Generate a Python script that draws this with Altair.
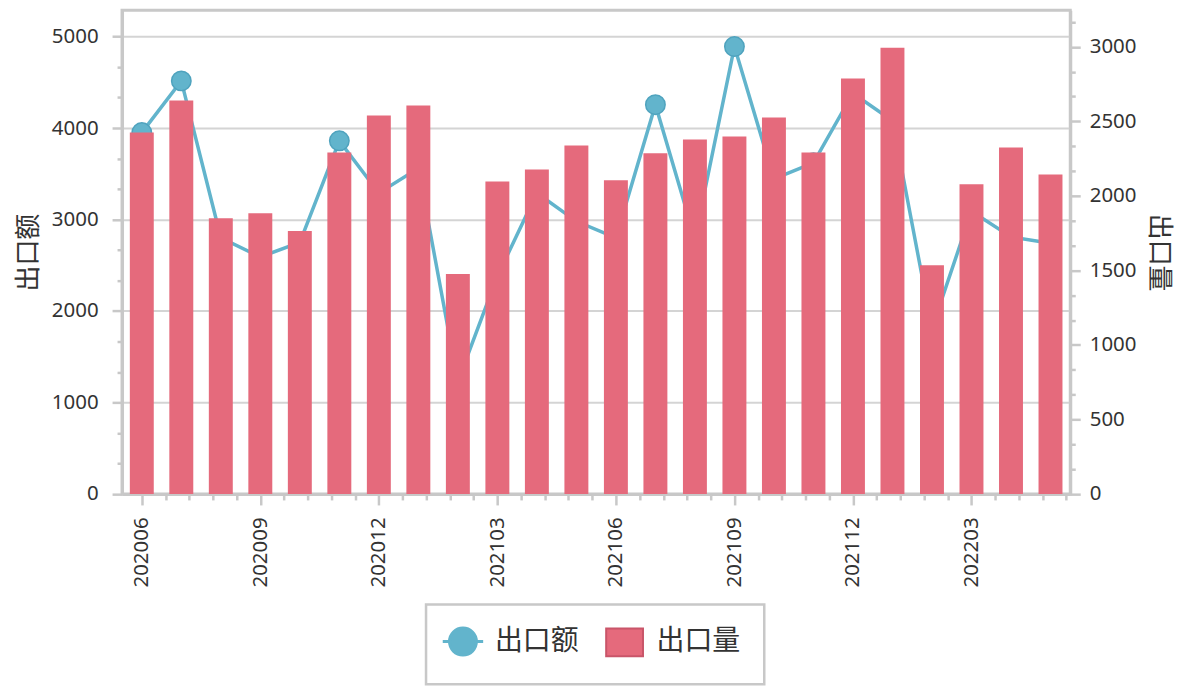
import altair as alt
import pandas as pd

# ---------------- data ----------------
months = ['202006', '202007', '202008', '202009', '202010', '202011', '202012',
          '202101', '202102', '202103', '202104', '202105', '202106', '202107',
          '202108', '202109', '202110', '202111', '202112', '202201', '202202',
          '202203', '202204', '202205']
export_value = [3950, 4515, 2800, 2590, 2750, 3860, 3290, 3560, 1230, 2380, 3290, 2980,
                2800, 4255, 2790, 4890, 3445, 3620, 4380, 4080, 1810, 3090, 2810, 2740]
export_volume = [2425, 2639, 1849, 1883, 1764, 2291, 2539, 2606, 1475, 2097, 2177, 2338,
                 2104, 2285, 2378, 2398, 2525, 2291, 2787, 2994, 1535, 2077, 2325, 2144]
major_months = ['202006', '202009', '202012', '202103', '202106', '202109', '202112', '202203']
series_names = ['出口额', '出口量']
left_ticks = [0, 1000, 2000, 3000, 4000, 5000]
right_ticks = [0, 500, 1000, 1500, 2000, 2500, 3000]

BLUE = '#62B4CC'
BLUE_DARK = '#4FA3BE'
RED = '#E56A7C'
RED_DARK = '#C95569'
GREY = '#C8C8C8'
TEXT = '#333333'

LMAX = 5287
RMAX = 3245

df = pd.DataFrame({
    'month': months,
    'pos': [i + 0.5 for i in range(len(months))],
    'amount': export_value,
    'volume': export_volume,
})

# ---------------- scales / axes ----------------
def xscale():
    return alt.Scale(domain=[0, len(months)], nice=False, zero=False)

major_pos = [months.index(m) + 0.5 for m in major_months]
minor_x = [round(0.5 + 0.6 * k, 3) for k in range(1, 40) if k % 5 != 0]
minor_left = [round(k * 1000 / 3, 2) for k in range(1, 16) if k % 3 != 0 and k * 1000 / 3 <= LMAX]
minor_right = [round(k * 500 / 3, 2) for k in range(1, 20) if k % 3 != 0 and k * 500 / 3 <= RMAX]

month_js = '[' + ','.join("'%s'" % m for m in months) + ']'

x_major_axis = alt.Axis(values=major_pos, labelExpr=month_js + '[floor(datum.value)]',
                        labelAngle=-90, tickSize=11, labelPadding=12, title=None,
                        grid=False, orient='bottom')
x_minor_axis = alt.Axis(values=minor_x, labels=False, tickSize=6, domain=False,
                        title=None, grid=False, orient='bottom')

left_axis = alt.Axis(values=left_ticks, orient='left', tickSize=10, labelPadding=14,
                     format='d', grid=True, gridColor='#D4D4D4', gridWidth=2,
                     title='出口额', titlePadding=10)
left_minor = alt.Axis(values=minor_left, orient='left', tickSize=5, labels=False,
                      domain=False, grid=False, title=None)
right_axis = alt.Axis(values=right_ticks, orient='right', tickSize=10, labelPadding=9,
                      format='d', grid=False, title='出口量', titlePadding=10)
right_minor = alt.Axis(values=minor_right, orient='right', tickSize=5, labels=False,
                       domain=False, grid=False, title=None)

circle_path = ('M-1.35,0H-0.9M0.9,0H1.35M-0.9,0A0.9,0.9,0,1,0,0.9,0'
               'A0.9,0.9,0,1,0,-0.9,0Z')
rect_path = 'M-1.23,-0.93H1.23V0.93H-1.23Z'

legend = alt.Legend(
    title=None, orient='none', legendX=304.7, legendY=595.5, direction='horizontal',
    symbolType={'expr': "datum.value == '出口额' ? '%s' : '%s'" % (circle_path, rect_path)},
    symbolSize=900,
    symbolStrokeColor={'expr': "datum.value == '出口额' ? '%s' : '%s'" % (BLUE, RED_DARK)},
    symbolStrokeWidth={'expr': "datum.value == '出口额' ? 3 : 2"},
    symbolOpacity=1,
    labelFont='Noto Sans CJK SC', labelFontSize=28, labelColor=TEXT, labelOffset=18,
    columnPadding=22, padding=23, strokeColor=GREY, fillColor='white',
)

base = alt.Chart(df)

line = base.mark_line(
    color=BLUE, strokeWidth=3.5,
    point=alt.OverlayMarkDef(filled=True, size=380, color=BLUE, stroke=BLUE_DARK, strokeWidth=1.5),
).encode(
    x=alt.X('pos:Q', scale=xscale(), axis=x_major_axis),
    y=alt.Y('amount:Q', scale=alt.Scale(domain=[0, LMAX], nice=False, zero=True), axis=left_axis),
)

bars = base.transform_calculate(
    series="'出口量'", x1='datum.pos - 0.303', x2='datum.pos + 0.303', base0='0'
).mark_rect().encode(
    x=alt.X('x1:Q', scale=xscale(), axis=None),
    x2='x2:Q',
    y=alt.Y('volume:Q', scale=alt.Scale(domain=[0, RMAX], nice=False, zero=True), axis=right_axis),
    y2='base0:Q',
    color=alt.Color('series:N', scale=alt.Scale(domain=series_names, range=[BLUE, RED]),
                    legend=legend),
)

minor_l = base.mark_point(opacity=0).encode(
    x=alt.X('pos:Q', scale=xscale(), axis=x_minor_axis),
    y=alt.Y('amount:Q', scale=alt.Scale(domain=[0, LMAX], nice=False, zero=True), axis=left_minor),
)

minor_r = base.mark_point(opacity=0).encode(
    x=alt.X('pos:Q', scale=xscale(), axis=None),
    y=alt.Y('volume:Q', scale=alt.Scale(domain=[0, RMAX], nice=False, zero=True), axis=right_minor),
)

chart = alt.layer(line, bars, minor_l, minor_r).resolve_scale(
    x='independent', y='independent'
).properties(
    width=950.4, height=484.8,
    autosize=alt.AutoSizeParams(type='none'),
    padding={'left': 114.3, 'top': 1.5, 'right': 112, 'bottom': 192},
).configure_view(
    stroke=GREY, strokeWidth=3
).configure_axis(
    domainColor=GREY, domainWidth=3, tickColor=GREY, tickWidth=2.5,
    labelColor=TEXT, titleColor=TEXT, labelFont='Noto Sans', labelFontSize=20.5,
    titleFont='Noto Sans CJK SC', titleFontSize=26, titleFontWeight='normal',
).configure_legend(
    strokeWidth=2.5
)

chart.save('out.html', embed_options={'renderer': 'svg', 'actions': False})
